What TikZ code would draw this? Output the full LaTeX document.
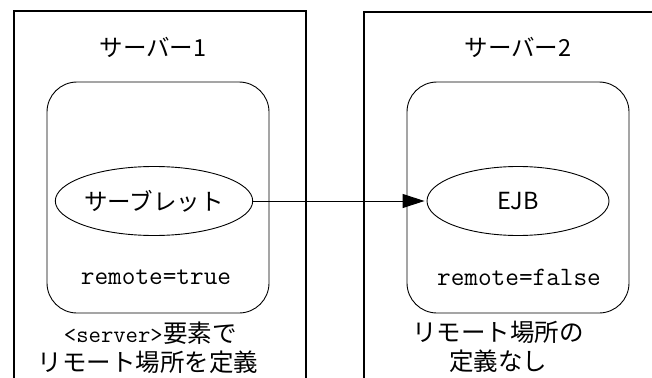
\documentclass[tikz,border=0pt]{standalone}
\usepackage{fontspec}
\setmainfont{Noto Sans CJK JP}
\newfontfamily\courf{Latin Modern Mono}
\usetikzlibrary{shapes.geometric,arrows.meta}
\begin{document}
\begin{tikzpicture}[x=1pt,y=-1pt,
  outerline/.style={line width=1.3pt},
  innerbox/.style={draw,line width=0.9pt,rounded corners=30pt,minimum width=222pt,minimum height=231pt,inner sep=0pt},
  comp/.style={draw,ellipse,line width=0.9pt,minimum width=182pt,minimum height=69pt,inner sep=0pt,font=\fontsize{23.5}{26}\selectfont},
  title/.style={font=\fontsize{23.5}{26}\selectfont,inner sep=0pt},
  attr/.style={font=\courf\fontsize{26.5}{28}\selectfont,inner sep=0pt},
  tag/.style={font=\courf\fontsize{24}{28}\selectfont,inner sep=0pt},
  note/.style={font=\fontsize{24.5}{29}\selectfont,align=center,inner sep=0pt}]
\useasboundingbox (0,0) rectangle (652,377);
\draw[outerline] (14,378) -- (14,11) -- (306,11) -- (306,378);
\draw[outerline] (364,378) -- (364,12) -- (653,12);
\node[title] (t1) at (153,47) {サーバー1};
\node[title] (t2) at (518,47) {サーバー2};
\node[innerbox] (b1) at (158,197.5) {};
\node[innerbox] (b2) at (518,197.5) {};
\node[comp] (s) at (154,201) {サーブレット};
\node[comp] (e) at (518,201) {EJB};
\node[attr] (r1) at (156,277) {remote=true};
\node[attr] (r2) at (519,277) {remote=false};
\node[note,anchor=base west] (n1b) at (163,342) {要素で};
\node[tag,anchor=base east] (n1a) at (n1b.base west) {<server>};
\node[note,anchor=base] (n1c) at (148,371) {リモート場所を定義};
\node[note] (n2) at (498,347) {リモート場所の\\定義なし};
\draw[line width=1pt,-{Triangle[length=22pt,width=14pt]},shorten >=2pt] (s.east) -- (e.west);
\end{tikzpicture}
\end{document}
